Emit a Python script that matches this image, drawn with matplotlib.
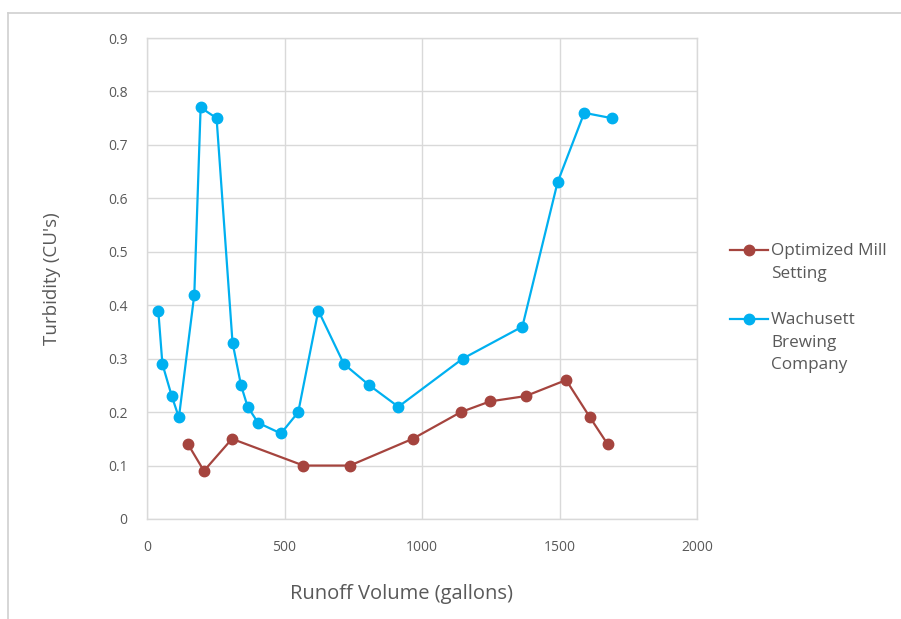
import matplotlib
matplotlib.use("Agg")
import matplotlib.pyplot as plt
from matplotlib.lines import Line2D

# runoff volume (gallons) vs turbidity for the two sampling runs
mill_x = [149, 207, 309, 569, 738, 966, 1141, 1247, 1377, 1524, 1611, 1675]
mill_y = [0.14, 0.09, 0.15, 0.10, 0.10, 0.15, 0.20, 0.22, 0.23, 0.26, 0.19, 0.14]

wbc_x = [41, 56, 90, 116, 172, 195, 253, 311, 342, 366, 404, 487, 550, 623,
         716, 809, 914, 1148, 1365, 1493, 1590, 1690]
wbc_y = [0.39, 0.29, 0.23, 0.19, 0.42, 0.77, 0.75, 0.33, 0.25, 0.21, 0.18, 0.16,
         0.20, 0.39, 0.29, 0.25, 0.21, 0.30, 0.36, 0.63, 0.76, 0.75]

series_names = ["Optimized Mill\nSetting", "Wachusett\nBrewing\nCompany"]
series_colors = ["#A5443E", "#00B0F0"]

x_ticks = [0, 500, 1000, 1500, 2000]
y_ticks = [0, 0.1, 0.2, 0.3, 0.4, 0.5, 0.6, 0.7, 0.8, 0.9]
y_labels = ["0", "0.1", "0.2", "0.3", "0.4", "0.5", "0.6", "0.7", "0.8", "0.9"]

plt.rcParams["font.family"] = ["Open Sans", "DejaVu Sans"]
txt = "#595959"
grid = "#d9d9d9"
W, H = 901, 619

fig = plt.figure(figsize=(9.01, 6.19), dpi=100)
ax = fig.add_axes([147 / W, 1 - 519 / H, 550 / W, 481 / H])

ax.plot(mill_x, mill_y, color=series_colors[0], lw=1.6, marker="o", ms=7.5,
        zorder=3)
ax.plot(wbc_x, wbc_y, color=series_colors[1], lw=1.6, marker="o", ms=7.5,
        zorder=3)

ax.set_xlim(0, 2000)
ax.set_ylim(0, 0.9)
ax.set_xticks(x_ticks)
ax.set_yticks(y_ticks)
ax.set_yticklabels(y_labels)
ax.tick_params(length=0, labelsize=10, colors=txt)
ax.tick_params(axis="y", pad=14)
ax.tick_params(axis="x", pad=15)
ax.grid(True, color=grid, lw=1)
ax.set_axisbelow(True)
for s in ax.spines.values():
    s.set_color(grid)
    s.set_linewidth(1)

fig.text(402 / W, 1 - 594 / H, "Runoff Volume (gallons)", ha="center",
         va="center", fontsize=14.5, color=txt)
fig.text(52 / W, 1 - 279 / H, "Turbidity (CU's)", ha="center",
         va="center", rotation=90, fontsize=13.5, color=txt)

# legend: handle lines up with the first line of each label
for name, col, yk in zip(series_names, series_colors, [250, 319]):
    fig.add_artist(Line2D([730 / W, 768 / W], [1 - yk / H, 1 - yk / H],
                          transform=fig.transFigure, color=col, lw=1.6))
    fig.add_artist(Line2D([749 / W], [1 - yk / H], transform=fig.transFigure,
                          color=col, marker="o", ms=7.5, lw=0))
    fig.text(771 / W, 1 - (yk - 7) / H, name, ha="left", va="top",
             fontsize=12.3, color=txt, linespacing=1.55)

# light border around the chart area
fig.add_artist(Line2D([7.5 / W, 7.5 / W], [0, 1 - 13 / H],
                      transform=fig.transFigure, color="#d0d0d0", lw=1.2))
fig.add_artist(Line2D([7.5 / W, 1], [1 - 13 / H, 1 - 13 / H],
                      transform=fig.transFigure, color="#d0d0d0", lw=1.2))

fig.savefig("out.png", dpi=100)
